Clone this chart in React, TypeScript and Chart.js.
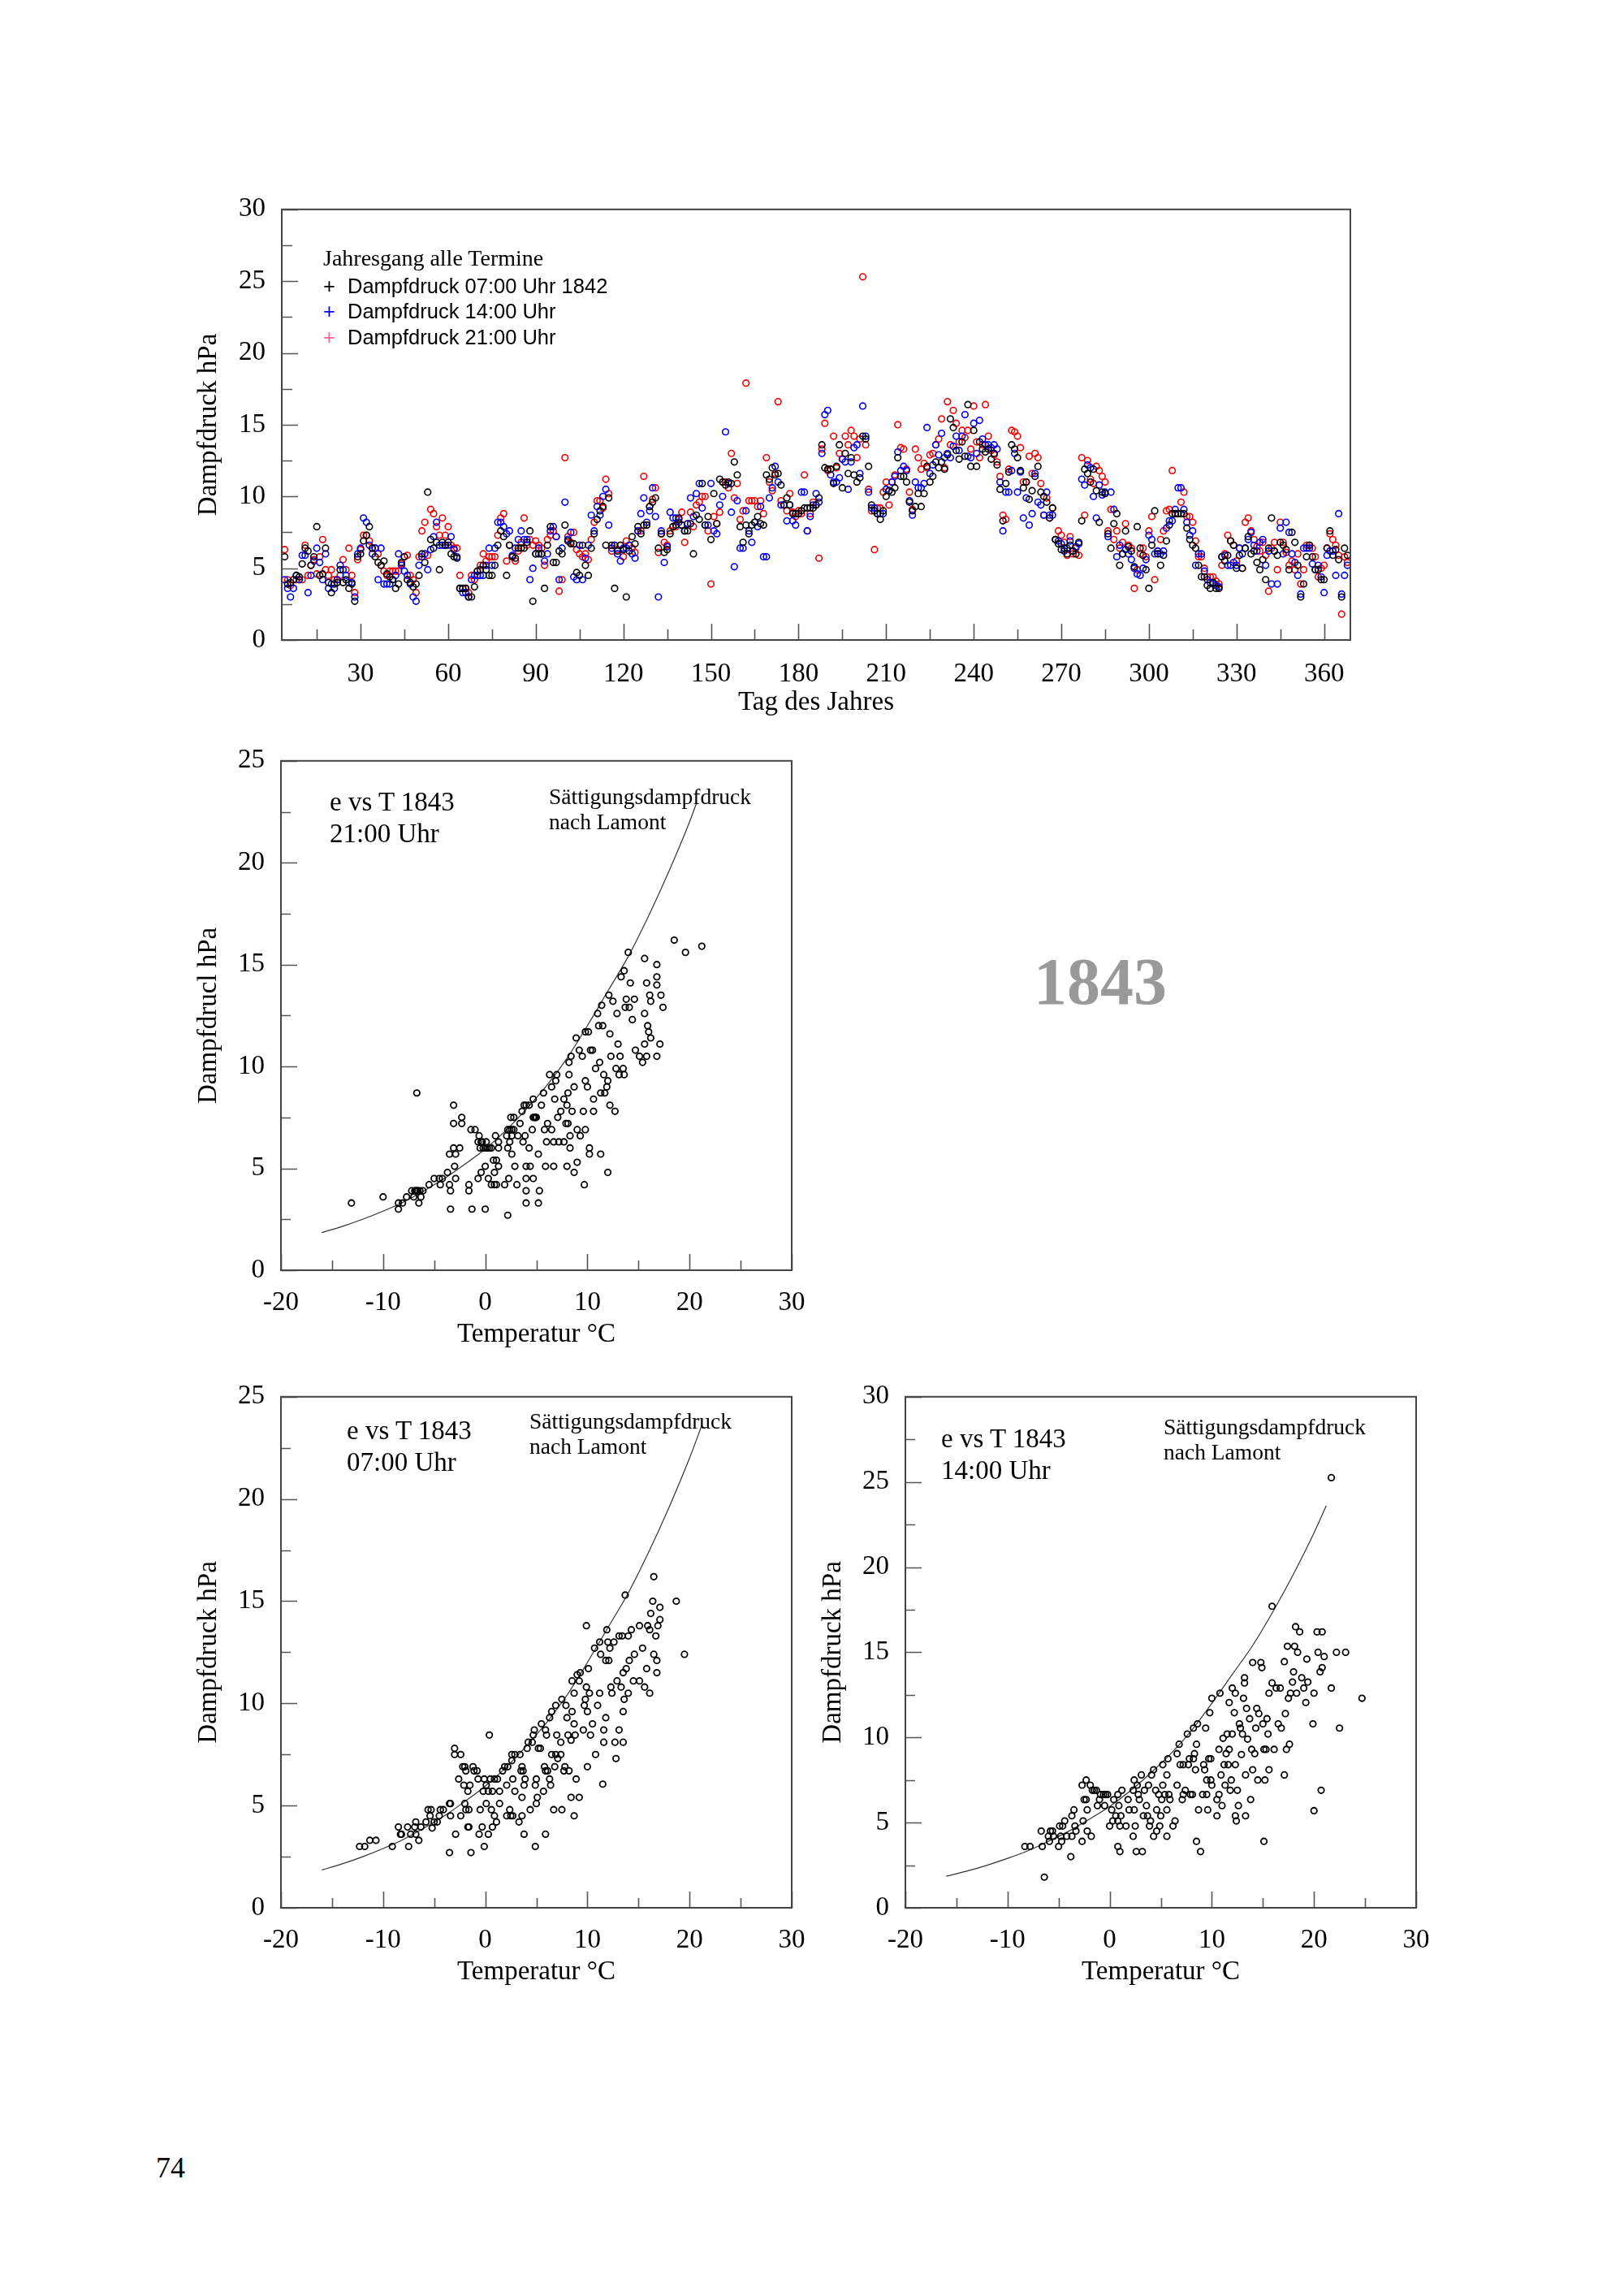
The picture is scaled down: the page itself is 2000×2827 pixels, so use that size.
import { useEffect, useRef } from "react";
import { Chart, registerables, type Plugin, type ChartConfiguration } from "chart.js";

Chart.register(...registerables);

const SERIF = '"Liberation Serif", "Times New Roman", Times, serif';
const SANS = '"Liberation Sans", Arial, Helvetica, sans-serif';

// ── Jahresgang 1842: Dampfdruck hPa, one value per day, starting at DAY_FIRST ──
const DAY_FIRST = 4;

const E07 = [
  5.8, 3.9, 4.0, 4.2, 4.5, 4.4, 5.3, 6.4, 6.2, 5.2,
  5.8, 7.9, 4.5, 4.6, 6.4, 4.0, 3.3, 3.9, 4.0, 4.9,
  4.0, 4.2, 3.6, 3.9, 2.7, 5.8, 6.0, 6.9, 7.3, 7.9,
  6.4, 5.8, 5.4, 5.2, 5.5, 4.6, 4.4, 4.2, 3.6, 3.9,
  5.4, 5.8, 4.2, 4.0, 3.7, 3.9, 4.5, 6.0, 5.4, 10.3,
  7.0, 6.4, 6.8, 4.9, 6.8, 6.6, 6.8, 6.0, 5.8, 5.7,
  3.6, 3.6, 3.6, 3.0, 3.0, 3.7, 4.8, 4.9, 5.2, 4.9,
  4.5, 4.5, 5.2, 6.6, 7.6, 7.2, 4.5, 6.6, 5.8, 5.7,
  6.4, 6.4, 6.4, 6.8, 7.6, 2.7, 6.0, 6.0, 6.0, 3.6,
  6.6, 7.9, 5.4, 5.4, 6.2, 6.0, 8.0, 6.9, 6.7, 6.7,
  4.7, 4.5, 6.6, 5.2, 4.5, 6.4, 7.4, 8.4, 9.0, 9.3,
  6.6, 9.9, 6.6, 3.6, 6.2, 6.6, 6.3, 3.0, 6.2, 7.2,
  6.7, 7.9, 7.4, 8.0, 8.0, 9.3, 9.6, 9.9, 6.4, 7.4,
  6.1, 6.3, 7.4, 7.9, 8.0, 8.5, 8.0, 7.6, 7.6, 8.1,
  6.0, 8.7, 8.4, 10.9, 8.0, 8.6, 7.0, 10.2, 8.1, 11.2,
  11.0, 10.8, 11.0, 10.9, 12.4, 11.5, 7.9, 6.8, 8.0, 7.4,
  8.0, 8.2, 8.6, 8.1, 8.0, 11.5, 11.2, 12.0, 11.5, 11.6,
  10.8, 9.4, 9.9, 9.4, 8.8, 8.8, 8.8, 9.0, 9.2, 9.2,
  9.2, 9.2, 9.4, 9.9, 13.6, 12.0, 11.9, 11.9, 10.9, 12.1,
  13.6, 10.6, 13.0, 11.6, 12.7, 11.5, 11.0, 11.3, 14.2, 14.0,
  12.1, 9.4, 9.0, 8.8, 8.4, 9.0, 10.0, 10.4, 10.3, 10.6,
  12.7, 11.4, 11.4, 11.0, 9.6, 9.0, 9.3, 10.2, 9.3, 10.2,
  12.1, 11.0, 11.4, 12.4, 12.0, 12.4, 11.9, 12.9, 15.4, 14.8,
  13.2, 12.6, 13.8, 12.8, 16.4, 12.1, 14.6, 12.1, 13.8, 13.3,
  13.1, 13.3, 12.6, 13.0, 12.2, 10.5, 8.3, 10.9, 11.7, 13.6,
  13.3, 12.7, 11.8, 10.6, 11.0, 9.8, 10.4, 11.4, 12.1, 10.3,
  10.0, 9.6, 8.5, 9.2, 7.0, 6.7, 6.3, 6.4, 6.0, 6.6,
  6.2, 6.0, 6.8, 8.3, 11.9, 11.6, 11.0, 11.9, 10.4, 8.2,
  10.3, 10.2, 7.4, 6.4, 8.1, 8.8, 5.2, 6.0, 7.6, 6.5,
  6.2, 5.1, 7.9, 6.4, 5.9, 4.9, 3.6, 6.6, 9.0, 6.0,
  5.2, 5.9, 6.9, 8.0, 8.8, 8.8, 8.8, 8.8, 8.8, 7.8,
  7.0, 6.6, 6.4, 5.2, 4.4, 4.4, 3.8, 3.6, 4.0, 3.6,
  3.6, 5.8, 5.5, 5.9, 6.9, 6.6, 5.0, 5.9, 5.0, 6.4,
  7.2, 6.0, 6.2, 5.4, 4.9, 5.6, 4.2, 6.4, 8.5, 6.2,
  5.9, 6.8, 6.6, 6.3, 4.9, 7.5, 6.8, 5.2, 3.0, 3.9,
  5.8, 6.6, 5.8, 4.9, 4.9, 4.2, 4.2, 6.4, 7.6, 5.9,
  6.3, 5.6, 3.0, 6.4, 5.9,
];

const E14 = [
  4.2, 3.6, 3.0, 3.6, 4.5, 4.2, 5.9, 5.9, 3.3, 4.5,
  5.5, 6.4, 5.4, 4.2, 6.0, 3.6, 3.9, 3.6, 4.2, 5.2,
  4.9, 4.5, 4.0, 4.0, 3.0, 6.0, 6.4, 8.5, 8.2, 6.6,
  6.0, 6.4, 4.2, 6.4, 3.9, 3.9, 3.9, 4.2, 4.5, 6.0,
  5.2, 4.8, 4.5, 3.9, 3.0, 2.7, 5.2, 5.8, 6.0, 4.9,
  6.3, 7.2, 8.2, 6.6, 6.6, 6.6, 6.6, 7.2, 6.3, 5.8,
  3.6, 3.3, 3.3, 3.0, 4.2, 4.5, 4.5, 4.5, 4.5, 5.2,
  6.4, 5.2, 6.4, 8.2, 8.2, 7.9, 7.4, 7.6, 5.9, 6.4,
  7.0, 7.6, 7.0, 7.0, 4.2, 5.0, 6.0, 6.4, 6.0, 5.5,
  6.0, 7.6, 7.9, 7.2, 4.2, 6.4, 9.6, 7.0, 7.5, 4.4,
  4.2, 6.6, 4.2, 5.7, 6.6, 8.7, 7.6, 9.3, 8.7, 10.0,
  10.5, 8.0, 6.4, 6.6, 6.0, 5.5, 6.4, 6.4, 6.6, 6.0,
  5.7, 7.6, 8.8, 9.9, 8.2, 9.0, 10.6, 8.6, 3.0, 7.6,
  5.4, 6.5, 8.9, 8.5, 8.5, 8.2, 8.0, 7.6, 8.1, 9.9,
  8.6, 10.2, 10.9, 9.2, 8.0, 8.0, 10.9, 7.6, 7.4, 9.4,
  10.0, 14.5, 10.9, 8.9, 5.1, 9.7, 6.4, 6.4, 9.0, 7.6,
  6.8, 8.2, 7.9, 9.3, 5.8, 5.8, 9.9, 10.6, 12.1, 11.0,
  9.4, 9.4, 8.3, 9.4, 8.3, 8.0, 8.8, 10.3, 10.3, 7.6,
  8.6, 9.4, 10.2, 9.6, 13.0, 15.7, 16.0, 11.5, 11.0, 11.0,
  11.3, 12.6, 12.4, 10.5, 12.4, 13.4, 13.6, 11.6, 16.3, 14.2,
  10.3, 9.2, 9.2, 8.8, 8.8, 8.8, 10.5, 10.4, 11.0, 11.4,
  13.1, 11.8, 12.1, 11.8, 9.7, 8.7, 11.0, 10.6, 10.6, 10.9,
  14.8, 11.6, 12.2, 13.6, 12.9, 14.4, 12.7, 13.0, 12.7, 13.5,
  14.2, 13.2, 14.2, 15.7, 12.8, 12.7, 15.1, 13.0, 15.3, 14.0,
  13.6, 13.6, 13.4, 13.6, 13.3, 11.0, 7.6, 10.3, 10.3, 11.8,
  13.0, 10.3, 11.7, 8.5, 9.9, 8.0, 8.8, 11.6, 9.6, 9.4,
  8.7, 10.3, 8.7, 8.7, 7.0, 6.9, 6.7, 6.2, 6.4, 6.9,
  6.2, 6.5, 6.7, 11.2, 10.8, 12.2, 12.0, 10.0, 8.5, 10.8,
  10.1, 10.3, 7.2, 10.3, 9.1, 5.8, 6.6, 6.0, 6.3, 6.0,
  5.6, 5.0, 4.6, 4.5, 5.0, 5.6, 7.3, 7.0, 6.0, 6.2,
  6.0, 6.2, 7.8, 8.3, 8.3, 9.1, 10.6, 10.6, 9.1, 8.2,
  7.3, 7.6, 5.2, 6.0, 6.0, 4.8, 4.2, 4.0, 3.9, 3.8,
  3.7, 5.8, 5.9, 5.2, 5.2, 5.4, 5.2, 6.4, 6.0, 6.4,
  7.0, 7.5, 6.6, 6.2, 6.8, 7.0, 5.2, 6.2, 3.9, 6.2,
  3.9, 7.8, 6.0, 8.2, 7.5, 6.0, 5.4, 4.5, 3.2, 6.4,
  6.4, 6.4, 5.3, 4.9, 5.2, 4.4, 3.3, 5.9, 6.2, 6.2,
  4.5, 8.8, 3.2, 4.5, 5.2,
];

const E21 = [
  6.3, 4.2, 3.8, 4.2, 4.2, 4.2, 4.2, 6.6, 4.5, 5.2,
  5.6, 4.6, 5.8, 7.0, 4.9, 4.5, 4.9, 4.2, 4.2, 4.5,
  5.6, 4.9, 6.4, 4.5, 3.3, 5.6, 6.3, 7.3, 7.3, 6.9,
  6.4, 6.4, 6.0, 5.2, 4.8, 4.5, 4.8, 4.8, 4.8, 4.8,
  5.3, 5.8, 5.9, 4.5, 4.2, 3.3, 5.8, 7.6, 8.2, 5.9,
  9.1, 8.8, 7.9, 7.3, 8.5, 7.3, 7.9, 6.6, 6.4, 6.4,
  4.5, 3.6, 3.6, 3.3, 4.5, 4.2, 4.8, 5.2, 6.0, 5.5,
  5.8, 5.8, 5.8, 7.3, 8.5, 8.8, 5.5, 6.6, 5.8, 5.5,
  6.2, 6.8, 8.5, 6.6, 7.0, 6.6, 6.9, 6.6, 6.4, 5.2,
  7.0, 7.3, 7.6, 7.2, 3.4, 4.2, 12.7, 7.2, 6.8, 7.5,
  6.3, 6.0, 5.8, 6.0, 5.6, 7.0, 8.2, 9.7, 9.7, 9.2,
  11.2, 10.2, 6.2, 6.6, 6.3, 6.6, 5.8, 6.9, 6.6, 6.4,
  6.1, 7.6, 7.6, 11.4, 8.0, 9.3, 9.8, 10.6, 6.1, 7.4,
  6.8, 6.6, 7.6, 7.9, 7.9, 8.4, 8.9, 6.8, 8.1, 8.9,
  7.9, 9.4, 9.6, 10.0, 10.0, 7.6, 3.9, 8.6, 8.1, 8.9,
  11.0, 11.0, 10.6, 13.0, 9.9, 10.9, 8.4, 9.0, 17.9, 9.7,
  9.7, 9.7, 9.3, 9.7, 8.8, 12.7, 11.0, 10.4, 11.6, 16.6,
  9.7, 9.4, 9.0, 10.2, 8.9, 8.6, 9.0, 8.8, 11.5, 7.6,
  8.8, 9.6, 9.4, 5.7, 13.3, 15.1, 11.8, 11.9, 14.2, 12.0,
  13.0, 12.6, 14.2, 13.6, 14.6, 14.2, 12.7, 14.0, 25.3, 13.6,
  10.5, 9.0, 6.3, 9.2, 9.2, 10.3, 11.0, 9.4, 11.0, 11.5,
  15.0, 13.4, 13.3, 11.9, 10.3, 9.1, 13.3, 12.7, 11.9, 12.3,
  12.0, 12.9, 13.0, 13.6, 14.0, 15.4, 12.0, 16.6, 13.6, 16.0,
  15.1, 13.8, 14.6, 14.1, 14.6, 13.3, 16.3, 13.8, 12.7, 13.6,
  16.4, 14.2, 13.2, 12.9, 12.4, 11.4, 8.7, 8.4, 11.9, 14.6,
  14.5, 14.2, 13.4, 11.0, 11.0, 12.8, 11.6, 13.0, 12.7, 10.9,
  8.7, 9.9, 8.5, 9.2, 7.0, 7.6, 7.3, 6.8, 5.9, 7.2,
  6.0, 6.4, 5.9, 12.7, 8.7, 12.5, 11.2, 10.9, 12.1, 11.8,
  11.4, 11.0, 7.6, 9.1, 7.0, 7.6, 6.4, 6.8, 8.1, 6.6,
  6.4, 3.6, 4.9, 6.0, 6.4, 5.8, 7.6, 8.6, 4.2, 6.2,
  7.0, 7.6, 9.0, 9.1, 11.8, 8.8, 8.8, 9.6, 10.3, 8.6,
  8.6, 8.2, 6.9, 5.8, 5.8, 5.0, 4.4, 4.4, 4.4, 4.1,
  3.9, 5.2, 6.0, 7.3, 6.9, 6.6, 5.5, 6.4, 5.0, 8.2,
  8.5, 7.6, 7.0, 6.5, 6.2, 6.8, 5.9, 3.4, 6.4, 6.8,
  4.9, 8.2, 6.8, 6.1, 5.2, 5.5, 4.9, 6.0, 3.9, 4.9,
  6.6, 6.6, 6.4, 5.8, 4.4, 5.0, 5.2, 6.4, 7.4, 7.0,
  6.6, 5.9, 1.8, 5.8, 5.4,
];

const DAY_TICKS = [30, 60, 90, 120, 150, 180, 210, 240, 270, 300, 330, 360];
const DAY_MINOR = [15, 45, 75, 105, 135, 165, 195, 225, 255, 285, 315, 345];
const E_TICKS_30 = [0, 5, 10, 15, 20, 25, 30];
const E_MINOR_30 = [2.5, 7.5, 12.5, 17.5, 22.5, 27.5];
const E_TICKS_25 = [0, 5, 10, 15, 20, 25];
const E_MINOR_25 = [2.5, 7.5, 12.5, 17.5, 22.5];
const T_TICKS = [-20, -10, 0, 10, 20, 30];
const T_MINOR = [-15, -5, 5, 15, 25];

// ── e vs T 1843: [Temperatur °C, Dampfdruck hPa] ──
const PTS_21: [number, number][] = [
  [-13.1, 3.3], [-10.0, 3.6], [-8.5, 3.3], [-8.5, 3.0], [-8.1, 3.3], [-7.7, 3.6], [-7.2, 3.9], [-7.0, 3.6],
  [-6.9, 3.9], [-6.8, 3.9], [-6.7, 3.9], [-6.6, 3.9], [-6.4, 3.9], [-6.5, 3.3], [-6.3, 3.6], [-6.1, 3.9], [-6.7, 8.7],
  [-5.5, 4.2], [-5.0, 4.5], [-4.5, 4.5], [-4.4, 4.2], [-4.2, 4.5], [-3.7, 4.8], [-3.5, 4.2], [-3.4, 3.9], [-3.4, 3.0],
  [-3.5, 5.7], [-3.1, 6.0], [-2.5, 6.0], [-3.0, 5.1], [-2.9, 4.5], [-2.9, 5.7], [-3.1, 8.1], [-3.1, 7.2], [-2.3, 7.5], [-2.3, 7.2],
  [-1.6, 4.2], [-1.6, 3.9], [-1.3, 3.0], [-1.4, 6.9], [-1.0, 6.9], [-0.7, 4.5], [-0.4, 4.8], [-0.6, 6.6], [-0.7, 6.3],
  [-0.4, 6.3], [-0.5, 6.0], [-0.2, 6.0], [0.0, 6.0], [0.2, 6.0], [0.4, 6.0], [0.6, 6.0], [-0.3, 6.3], [0.1, 6.3],
  [0.0, 3.0], [0.0, 5.1], [0.3, 4.5], [0.6, 4.2], [0.9, 4.2], [1.1, 4.2], [0.9, 4.8], [1.1, 5.4], [1.3, 5.1], [1.0, 6.6],
  [1.3, 6.3], [1.3, 6.0], [0.8, 5.4], [1.9, 4.2], [2.2, 2.7], [2.3, 4.5], [2.1, 6.6], [2.2, 6.9], [2.4, 6.9], [2.6, 6.9],
  [2.8, 6.9], [2.6, 6.6], [2.4, 6.3], [2.2, 6.0], [2.6, 5.7], [2.5, 7.5], [2.8, 7.5], [2.9, 5.1], [3.1, 4.2], [3.2, 6.6],
  [3.9, 6.6], [3.4, 7.2], [3.6, 7.8], [3.8, 8.1], [4.0, 8.1], [4.3, 8.1], [4.7, 8.4], [3.7, 6.3], [4.0, 4.5], [4.0, 3.9],
  [4.0, 3.3], [4.4, 5.1], [4.0, 5.1], [4.7, 4.5], [4.3, 6.0], [4.6, 6.9], [4.7, 7.5], [4.8, 7.5], [5.0, 7.5], [4.9, 7.5],
  [5.2, 3.3], [5.3, 3.9], [5.2, 5.7], [5.5, 8.1], [5.7, 8.7], [5.9, 5.1], [5.8, 6.9], [6.0, 6.3], [6.1, 7.2], [6.3, 9.6],
  [6.5, 9.0], [6.5, 6.9], [6.7, 6.3], [6.7, 5.1], [6.8, 8.4], [6.9, 9.3], [7.0, 9.6], [7.1, 7.5], [7.2, 6.3], [7.4, 7.8],
  [7.7, 8.4], [7.7, 6.3], [7.9, 7.2], [8.0, 5.1], [8.1, 7.2], [8.0, 8.1], [8.1, 8.7], [8.2, 9.6], [8.2, 10.2], [8.3, 6.0],
  [8.3, 6.6], [8.4, 10.5], [8.5, 7.8], [8.7, 4.8], [8.7, 9.0], [8.9, 11.4], [9.0, 6.9], [9.0, 5.3], [9.2, 10.8], [9.3, 6.6],
  [9.5, 10.5], [9.7, 4.2], [9.6, 7.8], [9.8, 6.9], [9.8, 9.3], [10.0, 9.0], [9.8, 11.7], [10.1, 11.7], [10.2, 6.0], [10.2, 5.7],
  [10.3, 10.8], [10.6, 8.4], [10.6, 7.8], [10.5, 10.8], [10.8, 9.9], [11.0, 12.6], [11.1, 12.0], [11.2, 10.2], [11.3, 5.7],
  [11.3, 8.7], [11.4, 13.0], [11.5, 12.0], [11.6, 9.6], [11.7, 8.7], [11.9, 9.0], [12.0, 4.8], [12.0, 9.3], [12.1, 13.5],
  [12.2, 11.6], [12.3, 10.5], [12.5, 13.2], [12.7, 7.8], [12.2, 8.1], [12.8, 9.9], [12.9, 12.6], [13.0, 11.1], [13.1, 9.6],
  [13.2, 10.5], [13.3, 14.4], [13.5, 9.9], [13.6, 14.7], [13.6, 9.6], [13.7, 12.9], [13.8, 13.3], [14.0, 15.6], [14.1, 12.9],
  [14.2, 14.1], [14.4, 12.3], [14.6, 13.3], [14.7, 10.8], [15.1, 10.5], [15.4, 10.2], [15.6, 12.6], [15.6, 11.1], [15.6, 15.3],
  [15.8, 14.1], [15.8, 10.5], [15.9, 12.0], [16.0, 11.7], [16.1, 13.5], [16.2, 13.2], [16.2, 11.4], [16.8, 15.0], [16.8, 14.4],
  [16.8, 14.0], [16.8, 10.5], [17.1, 11.1], [17.2, 13.5], [17.4, 12.9], [18.5, 16.2], [19.6, 15.6], [21.2, 15.9],
];

const PTS_07: [number, number][] = [
  [-12.3, 3.0], [-11.8, 3.0], [-11.3, 3.3], [-10.7, 3.3], [-9.1, 3.0], [-8.5, 3.95], [-8.3, 3.6], [-8.2, 3.6], [-7.6, 3.95],
  [-7.5, 3.0], [-7.3, 3.6], [-6.9, 3.95], [-6.8, 4.2], [-6.8, 3.6], [-6.5, 3.3], [-6.3, 3.95], [-5.8, 4.2], [-5.6, 4.8],
  [-5.3, 4.8], [-5.4, 4.5], [-5.2, 3.9], [-5.0, 4.2], [-4.7, 4.2], [-4.5, 4.5], [-4.4, 4.8], [-4.1, 4.8], [-3.5, 5.1],
  [-3.4, 5.1], [-3.4, 4.5], [-3.5, 2.7], [-3.0, 7.5], [-3.0, 7.8], [-2.4, 7.5], [-2.9, 3.6], [-2.6, 6.3], [-2.4, 4.5],
  [-2.1, 6.0], [-2.0, 6.9], [-2.2, 6.9], [-2.0, 5.1], [-1.9, 6.7], [-1.9, 4.8], [-1.7, 5.7], [-1.7, 3.95], [-1.6, 3.95],
  [-1.6, 4.8], [-1.5, 6.0], [-1.4, 2.7], [-1.2, 6.9], [-1.1, 6.7], [-0.8, 6.7], [-0.7, 6.3], [-0.5, 4.8], [-0.6, 3.6],
  [-0.3, 3.95], [-0.1, 3.0], [-0.2, 5.7], [-0.1, 6.3], [0.1, 6.0], [0.1, 5.1], [0.3, 3.6], [0.4, 8.45], [0.3, 5.7],
  [0.5, 6.3], [0.7, 3.95], [0.6, 4.8], [0.7, 5.7], [0.9, 4.5], [0.9, 6.3], [1.1, 4.2], [1.2, 6.3], [1.4, 5.1], [1.4, 5.7],
  [1.7, 6.7], [1.9, 6.9], [2.1, 6.0], [2.1, 4.5], [2.2, 6.9], [2.4, 4.8], [2.5, 4.5], [2.6, 7.2], [2.6, 7.5], [2.7, 4.5],
  [2.7, 6.3], [2.9, 7.5], [2.9, 5.7], [3.3, 4.2], [3.4, 7.5], [3.5, 6.7], [3.6, 6.9], [3.6, 5.4], [3.6, 4.5], [3.7, 6.7],
  [3.8, 3.6], [3.8, 6.0], [3.9, 6.3], [4.1, 7.8], [4.2, 8.1], [4.4, 4.8], [4.6, 8.1], [4.7, 8.45], [4.8, 8.7], [4.9, 6.0],
  [4.9, 3.0], [5.0, 6.3], [5.0, 5.1], [5.1, 5.4], [5.2, 7.8], [5.4, 7.8], [5.5, 9.0], [5.7, 5.7], [5.8, 6.9], [5.9, 3.6],
  [5.9, 6.7], [5.9, 8.7], [6.0, 8.45], [6.1, 6.7], [6.3, 6.3], [6.3, 9.3], [6.4, 6.0], [6.5, 7.5], [6.5, 9.6], [6.7, 4.8],
  [6.8, 6.9], [6.9, 9.9], [6.9, 7.5], [7.0, 8.45], [7.1, 7.3], [7.4, 8.1], [7.4, 7.5], [7.5, 10.2], [7.5, 4.8], [7.7, 6.7],
  [7.8, 6.9], [7.9, 9.9], [8.0, 9.3], [8.1, 8.45], [8.2, 6.7], [8.4, 8.2], [8.4, 5.4], [8.5, 11.1], [8.5, 9.6], [8.7, 4.5],
  [8.7, 9.0], [8.7, 10.5], [8.8, 8.45], [8.9, 6.3], [9.0, 11.4], [9.2, 11.1], [9.2, 5.4], [9.3, 11.5], [9.6, 8.7],
  [9.7, 9.9], [9.8, 10.2], [9.9, 10.8], [9.9, 13.8], [10.0, 9.6], [10.0, 6.9], [10.1, 11.7], [10.2, 10.5], [10.3, 8.45],
  [10.5, 9.0], [10.7, 12.7], [10.8, 7.5], [11.0, 9.9], [11.2, 10.5], [11.2, 13.0], [11.3, 12.4], [11.5, 6.05], [11.6, 8.7],
  [11.6, 8.1], [11.8, 9.3], [11.8, 12.1], [11.9, 13.6], [12.0, 13.0], [12.1, 12.1], [12.2, 12.7], [12.3, 10.8], [12.4, 10.5],
  [12.6, 13.0], [12.7, 8.1], [12.8, 7.3], [12.9, 11.1], [13.1, 8.7], [13.1, 13.3], [13.3, 10.8], [13.4, 13.3], [13.5, 9.6],
  [13.5, 8.1], [13.5, 11.5], [13.6, 10.2], [13.7, 15.3], [13.8, 11.7], [14.0, 13.3], [14.0, 10.5], [14.1, 12.1], [14.3, 13.6],
  [14.5, 11.1], [14.6, 12.4], [15.1, 11.1], [15.1, 13.8], [15.4, 12.7], [15.6, 10.8], [15.8, 11.7], [15.9, 13.8], [16.1, 13.6],
  [16.1, 10.5], [16.2, 14.4], [16.4, 15.0], [16.5, 16.2], [16.5, 12.4], [16.7, 13.3], [16.8, 12.1], [16.8, 11.5], [16.9, 13.8],
  [17.1, 14.7], [17.1, 14.1], [18.7, 15.0], [19.5, 12.4],
];

const PTS_14: [number, number][] = [
  [-8.3, 3.6], [-7.8, 3.6], [-6.7, 4.5], [-6.6, 3.6], [-6.4, 1.8], [-6.0, 4.2], [-5.9, 3.9], [-5.8, 4.5], [-5.6, 4.5],
  [-5.5, 4.2], [-5.0, 3.6], [-4.9, 4.8], [-4.8, 4.2], [-4.7, 3.9], [-4.6, 4.8], [-4.4, 5.1], [-4.2, 4.2], [-3.7, 4.2],
  [-3.8, 3.0], [-3.7, 5.4], [-3.5, 5.75], [-3.4, 4.8], [-3.3, 4.5], [-2.7, 3.9], [-2.6, 5.1], [-2.5, 6.35], [-2.7, 7.2],
  [-2.3, 7.5], [-2.3, 6.35], [-2.2, 5.75], [-2.2, 4.5], [-1.9, 7.2], [-1.8, 4.2], [-1.7, 6.9], [-1.5, 6.9], [-1.3, 6.9],
  [-1.2, 6.0], [-1.0, 6.35], [-0.9, 6.65], [-0.6, 6.65], [-0.5, 6.0], [-0.4, 6.65], [-0.2, 6.65], [0.0, 4.8], [0.2, 5.75],
  [0.3, 5.1], [0.4, 6.35], [0.6, 5.4], [0.8, 6.65], [0.8, 3.6], [0.8, 5.1], [1.0, 3.3], [0.9, 6.0], [1.0, 4.8], [1.1, 5.4],
  [1.2, 6.9], [1.6, 4.8], [1.8, 6.35], [1.9, 5.75], [2.3, 4.2], [2.3, 6.9], [2.4, 7.5], [2.4, 5.75], [2.5, 4.8], [2.6, 3.3],
  [2.7, 7.2], [2.8, 6.65], [2.9, 6.35], [3.1, 7.8], [3.2, 3.3], [3.3, 5.4], [3.4, 6.9], [3.6, 6.0], [3.7, 5.4], [3.8, 7.2],
  [3.9, 4.8], [4.0, 5.1], [4.1, 7.8], [4.3, 8.1], [4.3, 4.2], [4.5, 6.9], [4.6, 4.5], [4.6, 5.75], [4.8, 6.65], [4.9, 4.8],
  [5.0, 5.4], [5.1, 6.35], [5.2, 8.4], [5.2, 7.2], [5.4, 6.65], [5.6, 4.2], [5.6, 7.8], [5.6, 5.75], [5.7, 8.75], [5.8, 6.65],
  [5.9, 6.35], [6.2, 4.8], [6.4, 5.1], [6.6, 7.2], [6.6, 9.05], [6.8, 9.6], [6.9, 8.4], [7.1, 6.35], [7.2, 6.65], [7.2, 8.4],
  [7.4, 6.9], [7.6, 10.2], [7.7, 8.4], [7.8, 8.75], [7.9, 6.65], [8.1, 6.65], [8.2, 10.55], [8.2, 8.75], [8.3, 9.05],
  [8.4, 8.1], [8.5, 3.9], [8.5, 9.6], [8.6, 10.8], [8.7, 5.75], [8.9, 3.3], [9.1, 6.65], [9.2, 8.4], [9.3, 8.1], [9.4, 10.55],
  [9.5, 7.5], [9.5, 6.65], [9.6, 5.75], [9.7, 8.75], [9.8, 11.45], [9.9, 7.5], [9.9, 8.75], [10.0, 12.3], [10.0, 7.2],
  [10.5, 6.35], [10.5, 5.4], [10.7, 6.65], [10.7, 9.3], [10.8, 12.6], [10.9, 7.8], [11.0, 6.0], [11.1, 9.95], [11.2, 8.4],
  [11.3, 7.2], [11.4, 9.05], [11.5, 10.2], [11.6, 8.4], [11.7, 12.05], [11.7, 9.3], [11.8, 6.9], [11.9, 7.5], [12.0, 10.2],
  [12.0, 12.9], [12.2, 11.45], [12.3, 8.4], [12.3, 12.6], [12.3, 5.4], [12.4, 5.1], [12.5, 6.9], [12.6, 6.0], [12.7, 10.8],
  [12.8, 10.55], [12.9, 9.0], [13.0, 10.2], [13.1, 12.3], [13.2, 13.2], [13.2, 13.5], [13.3, 5.4], [13.3, 7.8], [13.4, 11.7],
  [13.5, 9.9], [13.7, 11.1], [13.8, 6.35], [13.9, 9.3], [14.0, 8.1], [14.0, 14.4], [14.2, 9.05], [14.3, 10.55], [14.4, 11.7],
  [14.5, 7.5], [14.6, 11.4], [14.8, 14.4], [14.9, 14.1], [15.0, 10.8], [15.1, 3.9], [15.1, 9.3], [15.2, 7.5], [15.3, 9.3],
  [15.4, 11.1], [15.5, 10.2], [15.6, 8.1], [15.6, 12.6], [15.9, 17.7], [15.9, 13.2], [16.1, 9.3], [16.3, 12.9], [16.5, 10.8],
  [16.7, 12.9], [16.8, 10.55], [17.1, 7.8], [17.1, 14.45], [17.2, 11.4], [17.3, 9.3], [17.4, 15.35], [17.5, 12.3], [17.6, 9.6],
  [17.7, 12.6], [17.9, 13.25], [18.0, 13.85], [18.1, 15.35], [18.2, 16.5], [18.3, 12.6], [18.4, 15.0], [18.6, 16.2],
  [18.8, 13.5], [19.0, 12.9], [19.2, 12.05], [19.3, 14.6], [19.4, 13.25], [19.9, 10.8], [20.0, 5.7], [20.0, 12.6],
  [20.3, 16.2], [20.4, 15.0], [20.6, 13.85], [20.7, 6.9], [20.8, 16.2], [20.8, 14.1], [21.0, 14.75], [21.7, 12.9],
  [21.7, 25.25], [22.2, 15.0], [22.5, 10.55], [23.1, 15.0], [24.7, 12.3],
];

// Sättigungsdampfdruck nach Lamont
const SAT_T = [-16, -14, -12, -10, -8, -6, -4, -2, 0, 2, 4, 6, 8, 10, 12, 14, 16, 18, 20];
const SAT_E = [1.85, 2.15, 2.5, 2.9, 3.35, 3.9, 4.5, 5.2, 5.95, 6.85, 7.9, 9.05, 10.4, 12.0, 13.7, 15.4, 17.4, 19.6, 22.0];
const SAT_END_21: [number, number] = [20.7, 22.95];
const SAT_END: [number, number] = [21.2, 23.6];

// ── Frame + inward tick marks ─────────────────────────────────────────────────
type TickOpts = {
  xMajor: number[]; xMinor: number[]; yMajor: number[]; yMinor: number[];
  major: number; minor: number;
};

const frameTicks: Plugin = {
  id: "frameTicks",
  afterDatasetsDraw(chart, _args, opts: any) {
    const o = opts as TickOpts;
    const { ctx, chartArea: a } = chart;
    const sx = chart.scales.x;
    const sy = chart.scales.y;
    ctx.save();
    ctx.strokeStyle = "#555";
    ctx.lineWidth = 1.6;
    ctx.beginPath();
    const xs = (vals: number[], len: number) =>
      vals.forEach((v) => { const p = Math.round(sx.getPixelForValue(v)) + 0.5; ctx.moveTo(p, a.bottom); ctx.lineTo(p, a.bottom - len); });
    const ys = (vals: number[], len: number) =>
      vals.forEach((v) => { const p = Math.round(sy.getPixelForValue(v)) + 0.5; ctx.moveTo(a.left, p); ctx.lineTo(a.left + len, p); });
    xs(o.xMajor, o.major); xs(o.xMinor, o.minor);
    ys(o.yMajor, o.major); ys(o.yMinor, o.minor);
    ctx.stroke();
    ctx.strokeStyle = "#444";
    ctx.lineWidth = 2;
    ctx.strokeRect(a.left, a.top, a.right - a.left, a.bottom - a.top);
    ctx.restore();
  },
};

const tickFont = { family: SERIF, size: 33 };
const titleFont = { family: SERIF, size: 33 };

function xAxis(min: number, max: number, ticks: number[], height: number, title: string, titleBottom: number, pad: number) {
  return {
    type: "linear" as const, min, max,
    afterBuildTicks: (s: any) => { s.ticks = ticks.map((v) => ({ value: v })); },
    afterFit: (s: any) => { s.height = height; },
    grid: { display: false, drawTicks: false },
    border: { display: false },
    ticks: { color: "#000", font: tickFont, padding: pad, autoSkip: false, maxRotation: 0, callback: (v: any) => String(v) },
    title: { display: true, text: title, color: "#000", font: titleFont, padding: { top: 0, bottom: titleBottom } },
  };
}

function yAxis(min: number, max: number, ticks: number[], width: number, title: string, titleLeft: number) {
  return {
    type: "linear" as const, min, max,
    afterBuildTicks: (s: any) => { s.ticks = ticks.map((v) => ({ value: v })); },
    afterFit: (s: any) => { s.width = width; },
    grid: { display: false, drawTicks: false },
    border: { display: false },
    ticks: { color: "#000", font: tickFont, padding: 20, autoSkip: false, callback: (v: any) => String(v) },
    title: { display: true, text: title, color: "#000", font: titleFont, padding: { top: titleLeft, bottom: 0 } },
  };
}

function circles(label: string, data: { x: number; y: number }[], color: string, r: number, bw: number) {
  return {
    type: "scatter" as const, label, data,
    pointStyle: "circle" as const, pointRadius: r, pointBorderWidth: bw,
    pointBorderColor: color, pointBackgroundColor: "rgba(0,0,0,0)",
    showLine: false,
  };
}

function yearConfig(): ChartConfiguration {
  const toPts = (arr: number[]) => arr.map((v, i) => ({ x: DAY_FIRST + i, y: v }));
  return {
    type: "scatter",
    plugins: [frameTicks],
    data: {
      datasets: [
        circles("Dampfdruck 07:00 Uhr 1842", toPts(E07), "#000000", 3.8, 1.6),
        circles("Dampfdruck 14:00 Uhr", toPts(E14), "#0000f0", 3.8, 1.6),
        circles("Dampfdruck 21:00 Uhr", toPts(E21), "#f00000", 3.8, 1.6),
      ],
    },
    options: {
      responsive: false, animation: false, devicePixelRatio: 1, events: [],
      layout: { padding: { top: 0, right: 37, left: 0, bottom: 0 } },
      plugins: {
        legend: { display: false }, tooltip: { enabled: false },
        frameTicks: { xMajor: DAY_TICKS, xMinor: DAY_MINOR, yMajor: E_TICKS_30, yMinor: E_MINOR_30, major: 20, minor: 13 },
      } as any,
      scales: {
        x: xAxis(3, 369, DAY_TICKS, 112, "Tag des Jahres", 15, 23),
        y: yAxis(0, 30, E_TICKS_30, 147, "Dampfdruck hPa", 38),
      } as any,
    },
  };
}

function scatterConfig(pts: [number, number][], end: [number, number], yMax: number, yTicks: number[], yMinor: number[],
  yTitle: string, padRight: number, yWidth: number, xHeight: number, titleLeft: number, titleBottom: number): ChartConfiguration {
  const curve = SAT_T.map((t, i) => ({ x: t, y: SAT_E[i] })).concat([{ x: end[0], y: end[1] }]);
  return {
    type: "scatter",
    plugins: [frameTicks],
    data: {
      datasets: [
        circles("e vs T", pts.map(([x, y]) => ({ x, y })), "#000000", 3.7, 1.8),
        {
          type: "line" as const, label: "Sättigungsdampfdruck nach Lamont", data: curve,
          borderColor: "#333", borderWidth: 1.2, pointRadius: 0, tension: 0.4, cubicInterpolationMode: "monotone" as const, fill: false,
        } as any,
      ],
    },
    options: {
      responsive: false, animation: false, devicePixelRatio: 1, events: [],
      layout: { padding: { top: 0, right: padRight, left: 0, bottom: 0 } },
      plugins: {
        legend: { display: false }, tooltip: { enabled: false },
        frameTicks: { xMajor: T_TICKS, xMinor: T_MINOR, yMajor: yTicks, yMinor, major: 20, minor: 12 },
      } as any,
      scales: {
        x: xAxis(-20, 30, T_TICKS, xHeight, "Temperatur °C", titleBottom, 21),
        y: yAxis(0, yMax, yTicks, yWidth, yTitle, titleLeft),
      } as any,
    },
  };
}

function ChartBox({ left, top, width, height, config }: { left: number; top: number; width: number; height: number; config: () => ChartConfiguration }) {
  const ref = useRef<HTMLCanvasElement>(null);
  useEffect(() => {
    if (!ref.current) return;
    const chart = new Chart(ref.current, config());
    return () => chart.destroy();
  }, [config]);
  return (
    <canvas ref={ref} width={width} height={height}
      style={{ position: "absolute", left, top, width, height, display: "block" }} />
  );
}

// text placed by its baseline
function Txt({ x, base, size, font = SERIF, color = "#000", bold = false, center = false, children }:
  { x: number; base: number; size: number; font?: string; color?: string; bold?: boolean; center?: boolean; children: any }) {
  const asc = font === SANS ? 0.905 : 0.891;
  const desc = font === SANS ? 0.212 : 0.216;
  const top = base - size * (asc - (asc + desc - 1) / 2);
  return (
    <div style={{
      position: "absolute", left: x, top, fontFamily: font, fontSize: size, lineHeight: `${size}px`,
      whiteSpace: "nowrap", color, fontWeight: bold ? 700 : 400, transform: center ? "translateX(-50%)" : undefined,
    }}>{children}</div>
  );
}

function Note({ x, base, time, sx, sbase }: { x: number; base: number; time: string; sx: number; sbase: number }) {
  return (
    <>
      <Txt x={x} base={base} size={33}>e vs T 1843</Txt>
      <Txt x={x} base={base + 39} size={33}>{time}</Txt>
      <Txt x={sx} base={sbase} size={27.5}>Sättigungsdampfdruck</Txt>
      <Txt x={sx} base={sbase + 31} size={27.5}>nach Lamont</Txt>
    </>
  );
}

const cfgYear = yearConfig;
const cfg21 = () => scatterConfig(PTS_21, SAT_END_21, 25, E_TICKS_25, E_MINOR_25, "Dampfdrucl hPa", 45, 146, 110, 38, 11);
const cfg07 = () => scatterConfig(PTS_07, SAT_END, 25, E_TICKS_25, E_MINOR_25, "Dampfdruck hPa", 45, 146, 111, 38, 12);
const cfg14 = () => scatterConfig(PTS_14, SAT_END, 30, E_TICKS_30, E_MINOR_30, "Dampfdruck hPa", 46, 145, 111, 37, 12);

export default function App() {
  return (
    <div style={{ position: "absolute", left: 0, top: 0, width: 2000, height: 2827, background: "#fff", overflow: "hidden" }}>
      {/* chart area top sits one tick-label line height (≈40px) below each canvas top */}
      <ChartBox left={200} top={218} width={1500} height={682} config={cfgYear} />
      <ChartBox left={200} top={897} width={820} height={777} config={cfg21} />
      <ChartBox left={200} top={1680} width={820} height={780} config={cfg07} />
      <ChartBox left={970} top={1680} width={820} height={780} config={cfg14} />

      {/* legend of the annual course */}
      <Txt x={398} base={327} size={28}>Jahresgang alle Termine</Txt>
      <Txt x={398} base={362} size={25.5} font={SANS}><span style={{ color: "#000" }}>+</span></Txt>
      <Txt x={428} base={362} size={25.5} font={SANS}>Dampfdruck 07:00 Uhr 1842</Txt>
      <Txt x={398} base={393} size={25.5} font={SANS}><span style={{ color: "#0000ff" }}>+</span></Txt>
      <Txt x={428} base={393} size={25.5} font={SANS}>Dampfdruck 14:00 Uhr</Txt>
      <Txt x={398} base={425} size={25.5} font={SANS}><span style={{ color: "#ff5f93" }}>+</span></Txt>
      <Txt x={428} base={425} size={25.5} font={SANS}>Dampfdruck 21:00 Uhr</Txt>

      <Note x={406} base={999} time="21:00 Uhr" sx={676} sbase={990} />
      <Note x={427} base={1773} time="07:00 Uhr" sx={652} sbase={1759} />
      <Note x={1159} base={1783} time="14:00 Uhr" sx={1433} sbase={1766} />

      <Txt x={1355} base={1237} size={82} bold center color="#999999">1843</Txt>
      <Txt x={192} base={2681} size={36}>74</Txt>
    </div>
  );
}
